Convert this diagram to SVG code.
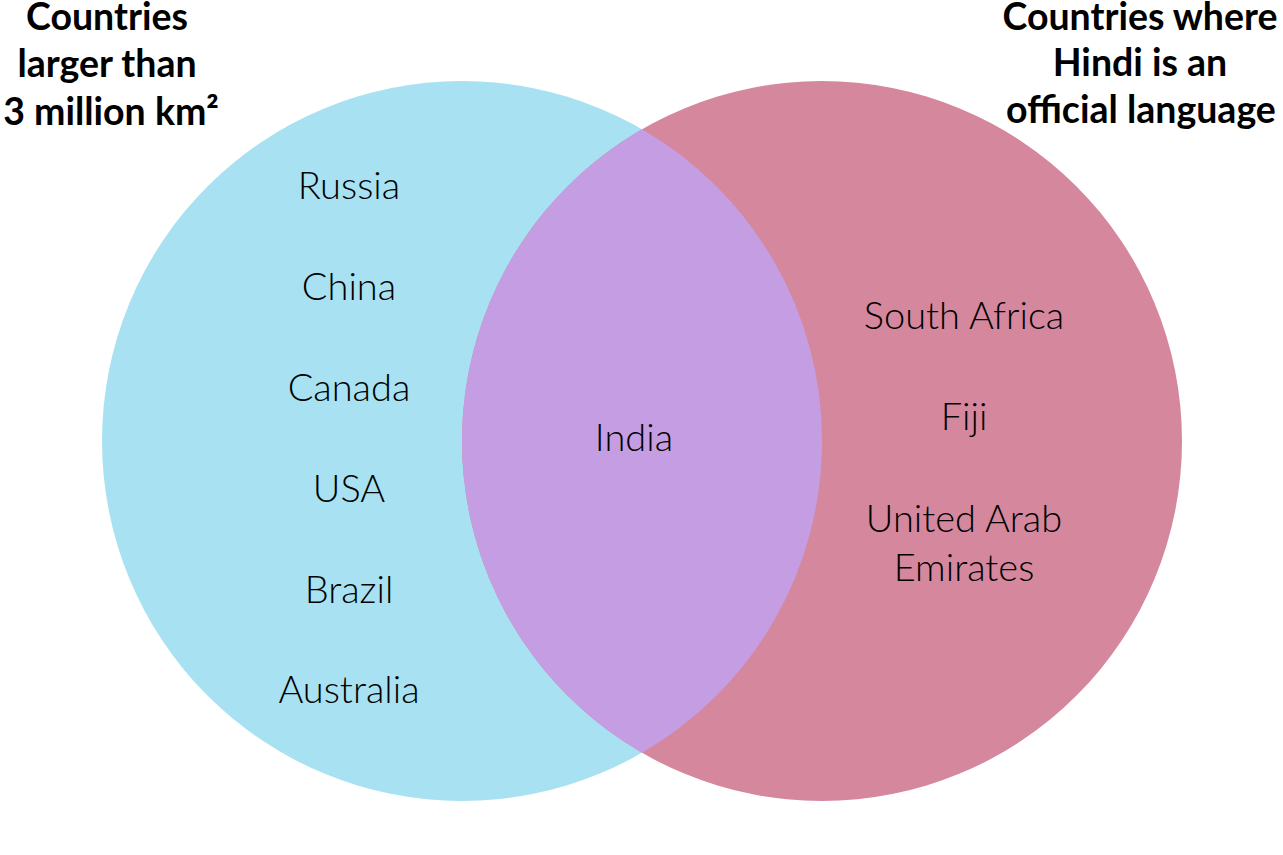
<svg xmlns="http://www.w3.org/2000/svg" width="1283" height="855" viewBox="0 0 1283 855">
<style>
.title{font-family:"Lato","Liberation Sans",sans-serif;font-weight:bold;font-size:37.5px;fill:#000;text-anchor:middle}
.lbl{font-family:"Lato","Liberation Sans",sans-serif;font-weight:300;font-size:38px;fill:#000;text-anchor:middle}
</style>
<rect width="1283" height="855" fill="#ffffff"/>
<g id="set-large">
<circle cx="462" cy="441" r="360" fill="#a8e1f1"/>
</g>
<g id="set-hindi">
<circle cx="822" cy="441" r="360" fill="#d5879d"/>
</g>
<g id="overlap">
<path d="M642,129.2 A360,360 0 0 1 642,752.8 A360,360 0 0 1 642,129.2 Z" fill="#c59de2"/>
</g>
<g id="title-left">
<text class="title" x="107" y="30">Countries</text>
<text class="title" x="107" y="77">larger than</text>
<text class="title" x="111" y="125">3 million km²</text>
</g>
<g id="title-right">
<text class="title" x="1140" y="30">Countries where</text>
<text class="title" x="1140" y="76">Hindi is an</text>
<text class="title" x="1141" y="123">official language</text>
</g>
<g id="left-items">
<text class="lbl" x="349" y="199">Russia</text>
<text class="lbl" x="349" y="300">China</text>
<text class="lbl" x="349" y="401">Canada</text>
<text class="lbl" x="349" y="502">USA</text>
<text class="lbl" x="349" y="603">Brazil</text>
<text class="lbl" x="349" y="703">Australia</text>
</g>
<g id="center-items">
<text class="lbl" x="634" y="451">India</text>
</g>
<g id="right-items">
<text class="lbl" x="964" y="329">South Africa</text>
<text class="lbl" x="964" y="430">Fiji</text>
<text class="lbl" x="964" y="532">United Arab</text>
<text class="lbl" x="964" y="581">Emirates</text>
</g>
</svg>
